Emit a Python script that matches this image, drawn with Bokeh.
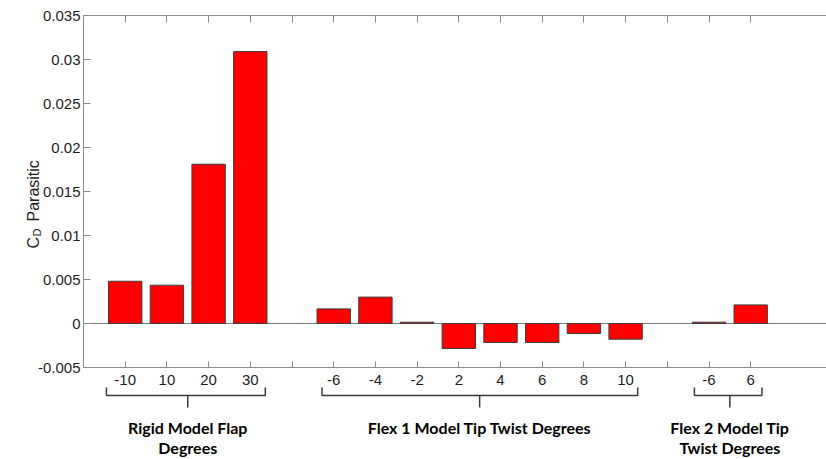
import math
from bokeh.plotting import figure
from bokeh.models import ColumnDataSource, FixedTicker, LinearAxis, Range1d
from bokeh.core.properties import value
from bokeh.embed import file_html
from bokeh.resources import INLINE

# ---------------- data ----------------
group_titles = [["Rigid Model Flap", "Degrees"],
                ["Flex 1 Model Tip Twist Degrees"],
                ["Flex 2 Model Tip", "Twist Degrees"]]
rigid_labels = ["-10", "10", "20", "30"]
rigid_values = [0.0048, 0.00435, 0.0181, 0.0309]
flex1_labels = ["-6", "-4", "-2", "2", "4", "6", "8", "10"]
flex1_values = [0.00166, 0.0030, 0.00015, -0.00284, -0.00216, -0.00216, -0.00114, -0.00178]
flex2_labels = ["-6", "6"]
flex2_values = [0.00015, 0.00211]
y_ticks = [-0.005, 0.0, 0.005, 0.01, 0.015, 0.02, 0.025, 0.03, 0.035]
y_tick_labels = ["-0.005", "0", "0.005", "0.01", "0.015", "0.02", "0.025", "0.03", "0.035"]
y_label_main = "C"
y_label_sub = "D"
y_label_rest = "Parasitic"

groups = [(rigid_labels, rigid_values), (flex1_labels, flex1_values), (flex2_labels, flex2_values)]

# ---------------- geometry (pixels of the 826x459 canvas) ----------------
W, H = 826, 459
PLOT_L, PLOT_T, PLOT_B = 83, 15, 367     # plot-box edges in pixels
PX_X = 41.7                              # pixels per category slot
Y0, Y1 = y_ticks[0], y_ticks[-1]
PX_Y = (Y1 - Y0) / (PLOT_B - PLOT_T)     # data units per pixel


def xd(px):
    return (px - PLOT_L) / PX_X


def yd(py):
    return Y1 - (py - PLOT_T) * PX_Y


# ---------------- positions from the groups ----------------
xs, tops, lab_pos, lab_txt, gap_pos, spans = [], [], [], [], [], []
pos = 1
for labels, values in groups:
    start = pos
    for lab, v in zip(labels, values):
        xs.append(pos)
        tops.append(v)
        lab_pos.append(pos)
        lab_txt.append(lab)
        pos += 1
    spans.append((start, pos - 1))
    gap_pos.append(pos)
    pos += 1
gap_pos = gap_pos[:-1]
all_ticks = sorted(lab_pos + gap_pos)

src = ColumnDataSource(dict(x=xs, top=tops))

p = figure(width=W, height=H, output_backend="svg", toolbar_location=None,
           x_range=Range1d(xd(0), xd(W)), y_range=Range1d(yd(H), yd(0)),
           x_axis_type=None, y_axis_type=None,
           min_border=0, min_border_left=0, min_border_right=0,
           min_border_top=0, min_border_bottom=0)
p.outline_line_color = None
p.xgrid.visible = False
p.ygrid.visible = False
p.background_fill_color = "white"
p.border_fill_color = "white"

AX = "#8a8a8a"
TXT = "#1e1e1e"
XMAX = xd(W) + 1

# left axis
ly = LinearAxis(ticker=FixedTicker(ticks=y_ticks), fixed_location=0, bounds=(Y0, Y1),
                major_label_overrides={t: l for t, l in zip(y_ticks, y_tick_labels)})
ly.axis_line_color = AX
ly.major_tick_line_color = AX
ly.major_tick_in = 7
ly.major_tick_out = 0
ly.minor_tick_line_color = None
ly.major_label_text_font = "Liberation Sans"
ly.major_label_text_font_size = "15px"
ly.major_label_text_color = TXT
ly.major_label_standoff = 3
p.add_layout(ly, "left")

# bottom axis (labelled ticks + blank separator ticks as minor ticks)
bx = LinearAxis(ticker=FixedTicker(ticks=lab_pos, minor_ticks=gap_pos),
                fixed_location=Y0, bounds=(0, XMAX),
                major_label_overrides={float(k): v for k, v in zip(lab_pos, lab_txt)})
bx.axis_line_color = AX
bx.major_tick_line_color = AX
bx.minor_tick_line_color = AX
bx.major_tick_in = 6
bx.major_tick_out = 0
bx.minor_tick_in = 6
bx.minor_tick_out = 0
bx.major_label_text_font = "Liberation Sans"
bx.major_label_text_font_size = "15px"
bx.major_label_text_color = TXT
bx.major_label_standoff = 7
p.add_layout(bx, "below")

# top axis (ticks only, as minor ticks -> no labels)
tx = LinearAxis(ticker=FixedTicker(ticks=[], minor_ticks=all_ticks),
                fixed_location=Y1, bounds=(0, XMAX))
tx.axis_line_color = AX
tx.minor_tick_line_color = AX
tx.minor_tick_in = 7
tx.minor_tick_out = 0
tx.major_tick_line_color = None
p.add_layout(tx, "above")

# zero line
p.segment(x0=[0], y0=[0], x1=[XMAX], y1=[0], line_color="#7a7a7a", line_width=1)

# bars
p.vbar(x="x", top="top", bottom=0, width=0.8, source=src,
       fill_color="#FF0000", line_color="#3c3c3c", line_width=1)

# braces and group titles
BR = "#3a3a3a"
pads = [(0.45, 0.36), (0.28, 0.29), (0.35, 0.27)]
bxs, bys, tx_x, tx_y, tx_t = [], [], [], [], []
for (a, b), titles, (lpad, rpad) in zip(spans, group_titles, pads):
    xl, xr, xm = a - lpad, b + rpad, (a + b) / 2.0
    yh, yt, yc = yd(395), yd(387), yd(407)
    bxs += [[xl, xl, xr, xr], [xm, xm]]
    bys += [[yt, yh, yh, yt], [yh, yc]]
    for i, t in enumerate(titles):
        tx_x.append(xm)
        tx_y.append(yd(427 + 20 * i))
        tx_t.append(t)
p.multi_line(xs=bxs, ys=bys, line_color=BR, line_width=1.5)
p.text(x=tx_x, y=tx_y, text=tx_t, text_align="center", text_baseline="middle",
       text_font=value("Lato"), text_font_style="bold",
       text_font_size=value("16px"), text_color="#000000")

# y axis title with subscript
p.text(x=[xd(33), xd(33)], y=[yd(248), yd(221)], text=[y_label_main, y_label_rest],
       angle=math.pi / 2, text_align="left", text_baseline="alphabetic",
       text_font=value("Liberation Sans"), text_font_size=value("16px"), text_color=TXT)
p.text(x=[xd(36.5)], y=[yd(236)], text=[y_label_sub],
       angle=math.pi / 2, text_align="left", text_baseline="alphabetic",
       text_font=value("Liberation Sans"), text_font_size=value("11px"), text_color=TXT)

open("out.html", "w").write(file_html(p, INLINE))
